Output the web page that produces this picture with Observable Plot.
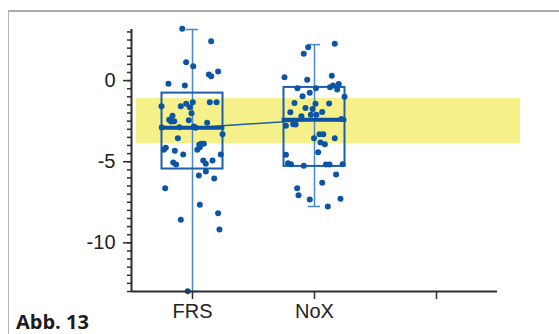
<!DOCTYPE html>
<html>
<head>
<meta charset="utf-8">
<script src="https://cdn.jsdelivr.net/npm/d3@7"></script>
<script src="https://cdn.jsdelivr.net/npm/@observablehq/plot@0.6"></script>
<style>
  html, body { margin: 0; padding: 0; background: #fff; }
  #wrap { position: relative; width: 559px; height: 334px; overflow: hidden; }
  #frame { position: absolute; left: 8px; top: 10px; width: 600px; height: 400px;
           border-top: 2px solid #ababab; border-left: 1.5px solid #b5b5b5; box-sizing: border-box; }
  #caption { position: absolute; left: 16px; top: 312px; font-family: "Open Sans", "Noto Sans", sans-serif;
             font-weight: 700; font-size: 20px; color: #1c1c1c; line-height: 20px; white-space: nowrap; }
  #chart { position: absolute; left: 0; top: 0; }
</style>
</head>
<body>
<div id="wrap">
  <div id="frame"></div>
  <div id="chart"></div>
  <div id="caption">Abb. 13</div>
</div>
<script>
// categories (third slot is empty on the axis)
const categories = ["FRS", "NoX", ""];

// box statistics per group
const groups    = ["FRS", "NoX"];
const q1        = [-5.45, -5.29];
const q3        = [-0.77, -0.42];
const medians   = [-2.90, -2.41];
const whiskLow  = [-13.0, -7.76];
const whiskHigh = [3.15, 2.22];

// reference band (yellow)
const bandRange = [-3.89, -1.11];
const bandX     = [0.54, 3.69];

// individual observations: value and horizontal jitter (category units)
const frsValues = [3.19, 2.43, 1.13, 0.89, 0.38, 0.27, 0.56, -0.20, -0.30, -1.58, -1.58, -1.43, -1.33, -1.64, -2.01, -1.33, -1.33,
  -2.17, -2.42, -2.52, -2.50, -2.44, -2.60, -2.89, -2.87, -2.83, -2.91, -3.30, -3.55, -3.90, -3.90, -3.96, -4.11, -4.27,
  -4.14, -4.27, -4.33, -4.56, -4.56, -4.93, -4.93, -5.05, -5.17, -5.13, -5.60, -5.85, -6.04, -6.63, -7.66, -8.18, -8.58, -9.18, -12.98];
const frsJitter = [-0.084, 0.153, -0.052, 0.006, 0.134, 0.153, 0.21, -0.197, -0.063, -0.254, -0.096, -0.052, 0.002, -0.022, -0.008, 0.142, 0.197,
  -0.164, -0.191, -0.175, -0.15, -0.03, 0.12, -0.252, -0.107, 0.011, 0.025, 0.246, -0.12, 0.071, 0.093, 0.055, 0.06, 0.039,
  -0.219, -0.235, -0.145, -0.076, 0.232, 0.088, 0.164, -0.158, -0.134, 0.109, 0.109, 0.052, 0.178, -0.224, 0.06, 0.21, -0.096, 0.221, -0.039];

const noxValues = [2.27, 2.06, 1.65, 0.21, 0.05, 0.30, -0.41, -0.30, -0.21, -0.55, -0.47, -0.47, -0.75, -1.00, -0.96, -1.38, -1.43, -1.41,
  -1.69, -1.75, -1.95, -1.94, -2.11, -2.11, -2.19, -2.36, -2.78, -2.69, -2.71, -3.55, -3.31, -3.31, -3.55, -3.82, -3.93, -4.41,
  -4.57, -5.09, -5.16, -5.25, -5.17, -5.17, -5.16, -5.79, -6.30, -6.63, -7.07, -7.33, -7.29, -7.76];
const noxJitter = [0.166, -0.052, -0.088, -0.246, -0.06, 0.142, 0.127, 0.152, 0.199, 0.186, -0.14, 0.012, -0.039, 0.246, -0.098, -0.164, 0.008, 0.12,
  -0.074, -0.016, -0.198, 0.063, -0.03, 0.016, -0.107, 0.221, -0.234, -0.175, -0.154, -0.004, 0.041, 0.072, 0.166, 0.049, 0.085, 0.03,
  -0.234, -0.217, -0.193, -0.088, 0.094, 0.123, 0.231, 0.177, 0.063, -0.142, -0.131, -0.039, 0.213, 0.109];

// y-axis ticks
const majorTicks = [0, -5, -10];
const minorTicks = d3.range(3, -13.01, -0.5);

// derived tables
const pos = g => categories.indexOf(g) + 1;
const boxes = groups.map((g, i) => ({x: pos(g), q1: q1[i], q3: q3[i], med: medians[i], lo: whiskLow[i], hi: whiskHigh[i]}));
const points = [
  ...frsValues.map((v, i) => ({x: pos("FRS") + frsJitter[i], y: v})),
  ...noxValues.map((v, i) => ({x: pos("NoX") + noxJitter[i], y: v}))
];
const band = [{x1: bandX[0], x2: bandX[1], y1: bandRange[0], y2: bandRange[1]}];

const boxHalf = 0.25, capHalf = 0.05, medHalf = 0.265;
const boxBlue = "#1d5ea9", dotBlue = "#0b55a4", whiskBlue = "#4a88cf", axisCol = "#2e2e2e";

const chart = Plot.plot({
  width: 559,
  height: 334,
  marginLeft: 131,
  marginRight: 62,
  marginTop: 29,
  marginBottom: 43,
  style: {fontFamily: "'Liberation Sans', Arial, sans-serif", background: "transparent", color: "#222"},
  x: {type: "linear", domain: [0.5, 3.5], axis: null},
  y: {domain: [-13, 3.15], axis: null},
  marks: [
    Plot.rect(band, {x1: "x1", x2: "x2", y1: "y1", y2: "y2", fill: "#f6f08a"}),
    Plot.ruleX(boxes, {x: "x", y1: "lo", y2: "hi", stroke: whiskBlue, strokeWidth: 1.5}),
    Plot.ruleY(boxes, {y: "hi", x1: d => d.x - capHalf, x2: d => d.x + capHalf, stroke: whiskBlue, strokeWidth: 1.5}),
    Plot.ruleY(boxes, {y: "lo", x1: d => d.x - capHalf, x2: d => d.x + capHalf, stroke: whiskBlue, strokeWidth: 1.5}),
    Plot.line(boxes, {x: "x", y: "med", stroke: boxBlue, strokeWidth: 1.5}),
    Plot.rect(boxes, {x1: d => d.x - boxHalf, x2: d => d.x + boxHalf, y1: "q1", y2: "q3", fill: "none", stroke: boxBlue, strokeWidth: 2}),
    Plot.ruleY(boxes, {y: "med", x1: d => d.x - medHalf, x2: d => d.x + medHalf, stroke: "#0c50a0", strokeWidth: 4}),
    Plot.dot(points, {x: "x", y: "y", r: 3, fill: dotBlue, stroke: "none"}),
    // axes
    Plot.ruleX([0.5], {stroke: axisCol, strokeWidth: 2}),
    Plot.ruleY([-13], {stroke: axisCol, strokeWidth: 2}),
    Plot.axisY(minorTicks, {tickSize: 4, tickFormat: () => "", stroke: axisCol, strokeWidth: 1.5}),
    Plot.axisY(majorTicks, {tickSize: 8, tickPadding: 8, fontSize: 20, stroke: axisCol, strokeWidth: 1.5, fill: "#222", tickFormat: d => d}),
    Plot.axisX([1, 2, 3], {tickSize: 8, tickPadding: 4, fontSize: 20, stroke: axisCol, strokeWidth: 1.5, fill: "#222",
      tickFormat: d => categories[d - 1]})
  ]
});
document.getElementById("chart").appendChild(chart);
</script>
</body>
</html>
